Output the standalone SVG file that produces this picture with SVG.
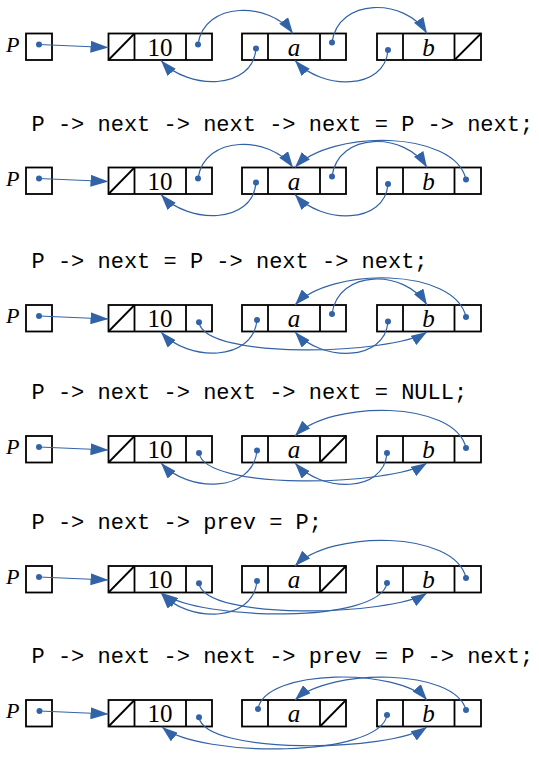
<svg xmlns="http://www.w3.org/2000/svg" width="539" height="760" viewBox="0 0 539 760">
<style>
.box{fill:#fff;stroke:#000;stroke-width:1.8}
.ln{stroke:#000;stroke-width:1.8}
.val{font-family:"Liberation Serif","Times New Roman",serif;font-size:25px;text-anchor:middle;fill:#000}
.it{font-style:italic}
.lab{font-family:"Liberation Serif","Times New Roman",serif;font-size:22px;font-style:italic;fill:#000}
.code{font-family:"Liberation Mono","Courier New",monospace;font-size:22px;fill:#000}
.dot{fill:#3363a7}
.lk{fill:none;stroke:#3363a7;stroke-width:1.2;marker-end:url(#ah)}
.lkP{fill:none;stroke:#3363a7;stroke-width:1.2;marker-end:url(#ahP)}
</style>
<defs>
<marker id="ah" viewBox="0 0 16 11" refX="16" refY="5.5" markerWidth="16" markerHeight="11" markerUnits="userSpaceOnUse" orient="auto"><path d="M0,0 L16,5.5 L0,11 z" fill="#3363a7"/></marker>
<marker id="ahP" viewBox="0 0 18 12" refX="18" refY="6" markerWidth="18" markerHeight="12" markerUnits="userSpaceOnUse" orient="auto"><path d="M0,0 L18,6 L0,12 z" fill="#3363a7"/></marker>
</defs>

<g id="codes">
<text class="code" x="31.5" y="130.5">P -&gt; next -&gt; next -&gt; next = P -&gt; next;</text>
<text class="code" x="31.5" y="268">P -&gt; next = P -&gt; next -&gt; next;</text>
<text class="code" x="31.5" y="399">P -&gt; next -&gt; next -&gt; next = NULL;</text>
<text class="code" x="31.5" y="529.3">P -&gt; next -&gt; prev = P;</text>
<text class="code" x="31.5" y="663.3">P -&gt; next -&gt; next -&gt; prev = P -&gt; next;</text>
</g>

<!-- Row 1 -->
<g id="row1" transform="translate(0,33.5)">
<g id="r1-P"><text class="lab" x="6" y="18">P</text><rect class="box" x="26" y="0" width="26" height="26.5"/><circle class="dot" cx="39" cy="11" r="3"/></g>
<g id="r1-n10"><rect class="box" x="108.5" y="0" width="103.5" height="26.5"/><line class="ln" x1="134.5" y1="0" x2="134.5" y2="26.5"/><line class="ln" x1="186" y1="0" x2="186" y2="26.5"/><line class="ln" x1="108.5" y1="26.5" x2="134.5" y2="0"/><text class="val" x="160" y="22">10</text><circle class="dot" cx="198" cy="11" r="3"/></g>
<g id="r1-na"><rect class="box" x="242" y="0" width="104" height="26.5"/><line class="ln" x1="268" y1="0" x2="268" y2="26.5"/><line class="ln" x1="320" y1="0" x2="320" y2="26.5"/><text class="val it" x="294" y="22">a</text><circle class="dot" cx="256" cy="15" r="3"/><circle class="dot" cx="332" cy="9" r="3"/></g>
<g id="r1-nb"><rect class="box" x="377" y="0" width="104" height="26.5"/><line class="ln" x1="403" y1="0" x2="403" y2="26.5"/><line class="ln" x1="454.5" y1="0" x2="454.5" y2="26.5"/><line class="ln" x1="454.5" y1="26.5" x2="481" y2="0"/><text class="val it" x="428.5" y="22">b</text><circle class="dot" cx="388" cy="16.5" r="3"/></g>
<g id="r1-links">
<path class="lkP" d="M39,11 L108.5,14"/>
<path class="lk" d="M198,11 C204,-33 270,-32 293,0"/>
<path class="lk" d="M256,15 C253,57 188,57 161,27"/>
<path class="lk" d="M332,9 C338,-36 405,-36 427,0"/>
<path class="lk" d="M388,16.5 C385,57 322,57 295,27"/>
</g>
</g>

<!-- Row 2 -->
<g id="row2" transform="translate(0,167.5)">
<g id="r2-P"><text class="lab" x="6" y="18">P</text><rect class="box" x="26" y="0" width="26" height="26.5"/><circle class="dot" cx="39" cy="11" r="3"/></g>
<g id="r2-n10"><rect class="box" x="108.5" y="0" width="103.5" height="26.5"/><line class="ln" x1="134.5" y1="0" x2="134.5" y2="26.5"/><line class="ln" x1="186" y1="0" x2="186" y2="26.5"/><line class="ln" x1="108.5" y1="26.5" x2="134.5" y2="0"/><text class="val" x="160" y="22">10</text><circle class="dot" cx="198" cy="11" r="3"/></g>
<g id="r2-na"><rect class="box" x="242" y="0" width="104" height="26.5"/><line class="ln" x1="268" y1="0" x2="268" y2="26.5"/><line class="ln" x1="320" y1="0" x2="320" y2="26.5"/><text class="val it" x="294" y="22">a</text><circle class="dot" cx="256" cy="15" r="3"/><circle class="dot" cx="332" cy="9" r="3"/></g>
<g id="r2-nb"><rect class="box" x="377" y="0" width="104" height="26.5"/><line class="ln" x1="403" y1="0" x2="403" y2="26.5"/><line class="ln" x1="454.5" y1="0" x2="454.5" y2="26.5"/><text class="val it" x="428.5" y="22">b</text><circle class="dot" cx="388" cy="16.5" r="3"/><circle class="dot" cx="466" cy="12" r="3"/></g>
<g id="r2-links">
<path class="lkP" d="M39,11 L108.5,14"/>
<path class="lk" d="M198,11 C204,-33 270,-32 293,0"/>
<path class="lk" d="M256,15 C253,57 188,57 161,27"/>
<path class="lk" d="M332,9 C338,-36 405,-36 427,0"/>
<path class="lk" d="M388,16.5 C385,57 322,57 295,27"/>
<path class="lk" d="M466,12 C455,-38 330,-38 295,0"/>
</g>
</g>

<!-- Row 3 -->
<g id="row3" transform="translate(0,305)">
<g id="r3-P"><text class="lab" x="6" y="18">P</text><rect class="box" x="26" y="0" width="26" height="26.5"/><circle class="dot" cx="39" cy="11" r="3"/></g>
<g id="r3-n10"><rect class="box" x="108.5" y="0" width="103.5" height="26.5"/><line class="ln" x1="134.5" y1="0" x2="134.5" y2="26.5"/><line class="ln" x1="186" y1="0" x2="186" y2="26.5"/><line class="ln" x1="108.5" y1="26.5" x2="134.5" y2="0"/><text class="val" x="160" y="22">10</text><circle class="dot" cx="199" cy="17.3" r="3"/></g>
<g id="r3-na"><rect class="box" x="242" y="0" width="104" height="26.5"/><line class="ln" x1="268" y1="0" x2="268" y2="26.5"/><line class="ln" x1="320" y1="0" x2="320" y2="26.5"/><text class="val it" x="294" y="22">a</text><circle class="dot" cx="257" cy="15" r="3"/><circle class="dot" cx="332" cy="9" r="3"/></g>
<g id="r3-nb"><rect class="box" x="377" y="0" width="104" height="26.5"/><line class="ln" x1="403" y1="0" x2="403" y2="26.5"/><line class="ln" x1="454.5" y1="0" x2="454.5" y2="26.5"/><text class="val it" x="428.5" y="22">b</text><circle class="dot" cx="388" cy="16.5" r="3"/><circle class="dot" cx="466" cy="12" r="3"/></g>
<g id="r3-links">
<path class="lkP" d="M39,11 L108.5,14"/>
<path class="lk" d="M199,17.3 C205,55 390,50 427,27"/>
<path class="lk" d="M257,15 C253,57 188,57 161,27"/>
<path class="lk" d="M332,9 C338,-36 405,-36 427,0"/>
<path class="lk" d="M388,16.5 C385,57 322,57 295,27"/>
<path class="lk" d="M466,12 C455,-38 330,-38 295,0"/>
</g>
</g>

<!-- Row 4 -->
<g id="row4" transform="translate(0,436)">
<g id="r4-P"><text class="lab" x="6" y="18">P</text><rect class="box" x="26" y="0" width="26" height="26.5"/><circle class="dot" cx="39" cy="11" r="3"/></g>
<g id="r4-n10"><rect class="box" x="108.5" y="0" width="103.5" height="26.5"/><line class="ln" x1="134.5" y1="0" x2="134.5" y2="26.5"/><line class="ln" x1="186" y1="0" x2="186" y2="26.5"/><line class="ln" x1="108.5" y1="26.5" x2="134.5" y2="0"/><text class="val" x="160" y="22">10</text><circle class="dot" cx="199" cy="17" r="3"/></g>
<g id="r4-na"><rect class="box" x="242" y="0" width="104" height="26.5"/><line class="ln" x1="268" y1="0" x2="268" y2="26.5"/><line class="ln" x1="320" y1="0" x2="320" y2="26.5"/><line class="ln" x1="320" y1="26.5" x2="346" y2="0"/><text class="val it" x="294" y="22">a</text><circle class="dot" cx="257" cy="14.5" r="3"/></g>
<g id="r4-nb"><rect class="box" x="377" y="0" width="104" height="26.5"/><line class="ln" x1="403" y1="0" x2="403" y2="26.5"/><line class="ln" x1="454.5" y1="0" x2="454.5" y2="26.5"/><text class="val it" x="428.5" y="22">b</text><circle class="dot" cx="387" cy="17" r="3"/><circle class="dot" cx="466" cy="12" r="3"/></g>
<g id="r4-links">
<path class="lkP" d="M39,11 L108.5,14"/>
<path class="lk" d="M199,17 C205,55 390,50 427,27"/>
<path class="lk" d="M257,14.5 C253,57 188,57 161,27"/>
<path class="lk" d="M387,17 C384,57 322,57 295,27"/>
<path class="lk" d="M466,12 C455,-36 330,-36 295,0"/>
</g>
</g>

<!-- Row 5 -->
<g id="row5" transform="translate(0,566)">
<g id="r5-P"><text class="lab" x="6" y="18">P</text><rect class="box" x="26" y="0" width="26" height="26.5"/><circle class="dot" cx="39" cy="11" r="3"/></g>
<g id="r5-n10"><rect class="box" x="108.5" y="0" width="103.5" height="26.5"/><line class="ln" x1="134.5" y1="0" x2="134.5" y2="26.5"/><line class="ln" x1="186" y1="0" x2="186" y2="26.5"/><line class="ln" x1="108.5" y1="26.5" x2="134.5" y2="0"/><text class="val" x="160" y="22">10</text><circle class="dot" cx="199" cy="17.3" r="3"/></g>
<g id="r5-na"><rect class="box" x="242" y="0" width="104" height="26.5"/><line class="ln" x1="268" y1="0" x2="268" y2="26.5"/><line class="ln" x1="320" y1="0" x2="320" y2="26.5"/><line class="ln" x1="320" y1="26.5" x2="346" y2="0"/><text class="val it" x="294" y="22">a</text><circle class="dot" cx="257" cy="15" r="3"/></g>
<g id="r5-nb"><rect class="box" x="377" y="0" width="104" height="26.5"/><line class="ln" x1="403" y1="0" x2="403" y2="26.5"/><line class="ln" x1="454.5" y1="0" x2="454.5" y2="26.5"/><text class="val it" x="428.5" y="22">b</text><circle class="dot" cx="387" cy="17" r="3"/><circle class="dot" cx="466" cy="12" r="3"/></g>
<g id="r5-links">
<path class="lkP" d="M39,11 L108.5,14"/>
<path class="lk" d="M199,17.3 C205,55 390,50 427,27"/>
<path class="lk" d="M257,15 C253,57 188,57 161,27"/>
<path class="lk" d="M387,17 C380,58 200,55 162,27"/>
<path class="lk" d="M466,12 C455,-36 330,-36 295,0"/>
</g>
</g>

<!-- Row 6 -->
<g id="row6" transform="translate(0,700)">
<g id="r6-P"><text class="lab" x="6" y="18">P</text><rect class="box" x="26" y="0" width="26" height="26.5"/><circle class="dot" cx="39.5" cy="11" r="3"/></g>
<g id="r6-n10"><rect class="box" x="108.5" y="0" width="103.5" height="26.5"/><line class="ln" x1="134.5" y1="0" x2="134.5" y2="26.5"/><line class="ln" x1="186" y1="0" x2="186" y2="26.5"/><line class="ln" x1="108.5" y1="26.5" x2="134.5" y2="0"/><text class="val" x="160" y="22">10</text><circle class="dot" cx="199" cy="17.3" r="3"/></g>
<g id="r6-na"><rect class="box" x="242" y="0" width="104" height="26.5"/><line class="ln" x1="268" y1="0" x2="268" y2="26.5"/><line class="ln" x1="320" y1="0" x2="320" y2="26.5"/><line class="ln" x1="320" y1="26.5" x2="346" y2="0"/><text class="val it" x="294" y="22">a</text><circle class="dot" cx="258" cy="9" r="3"/></g>
<g id="r6-nb"><rect class="box" x="377" y="0" width="104" height="26.5"/><line class="ln" x1="403" y1="0" x2="403" y2="26.5"/><line class="ln" x1="454.5" y1="0" x2="454.5" y2="26.5"/><text class="val it" x="428.5" y="22">b</text><circle class="dot" cx="387" cy="15" r="3"/><circle class="dot" cx="466" cy="10" r="3"/></g>
<g id="r6-links">
<path class="lkP" d="M39.5,11 L108.5,14"/>
<path class="lk" d="M199,17.3 C205,55 390,52 427,27"/>
<path class="lk" d="M387,15 C380,58 200,58 162,27"/>
<path class="lk" d="M258,9 C265,-32 400,-32 427,0"/>
<path class="lk" d="M466,10 C455,-32 330,-32 295,0"/>
</g>
</g>
</svg>
